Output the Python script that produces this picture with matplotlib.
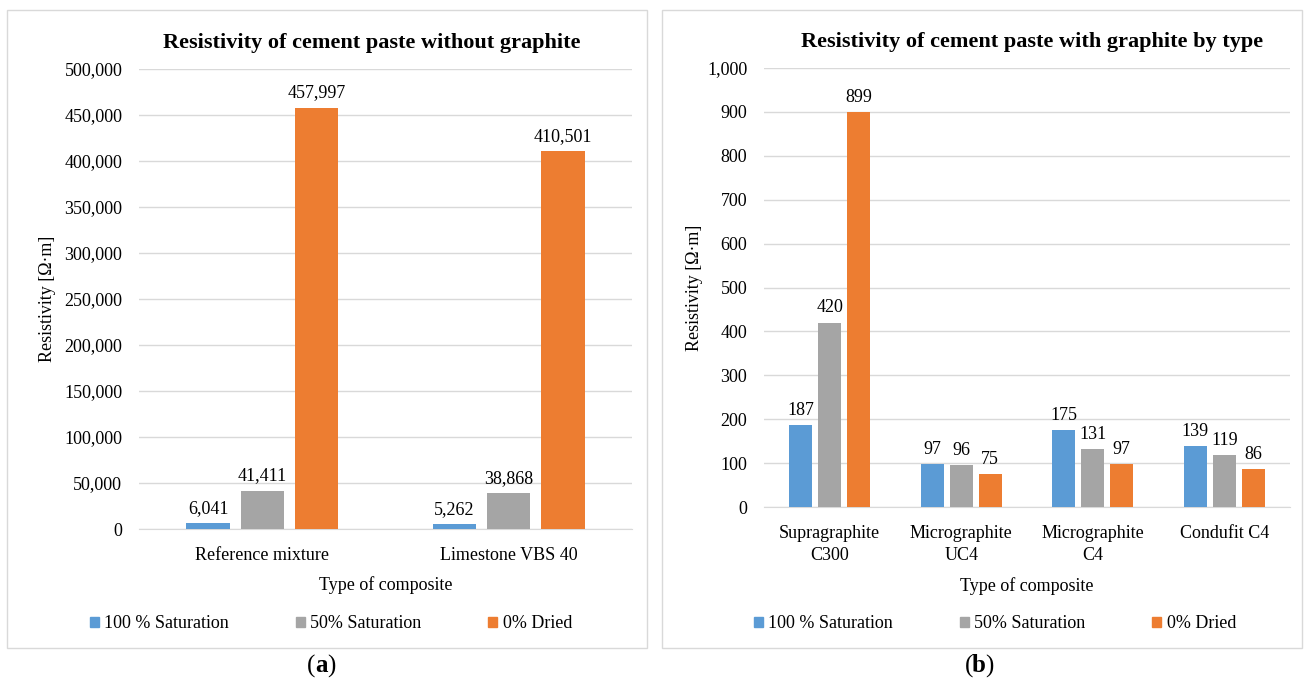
import matplotlib.pyplot as plt
from matplotlib.patches import Rectangle
from matplotlib.ticker import FuncFormatter
import numpy as np

plt.rcParams["font.family"] = ["Liberation Serif", "DejaVu Serif"]

series = ["100 % Saturation", "50% Saturation", "0% Dried"]
colors = ["#5B9BD5", "#A5A5A5", "#ED7D31"]

cats_a = ["Reference mixture", "Limestone VBS 40"]
sat100_a = [6041, 5262]
sat50_a = [41411, 38868]
dried_a = [457997, 410501]

cats_b = ["Supragraphite\nC300", "Micrographite\nUC4", "Micrographite\nC4", "Condufit C4"]
sat100_b = [187, 97, 175, 139]
sat50_b = [420, 96, 131, 119]
dried_b = [899, 75, 97, 86]

W, H = 1307, 684
fig = plt.figure(figsize=(W / 100, H / 100), dpi=100)


def px_axes(x0, y0, x1, y1):
    return fig.add_axes([x0 / W, 1 - y1 / H, (x1 - x0) / W, (y1 - y0) / H])


def panel_box(x0, y0, x1, y1):
    fig.patches.append(Rectangle((x0 / W, 1 - y1 / H), (x1 - x0) / W, (y1 - y0) / H,
                                 transform=fig.transFigure, fill=False,
                                 edgecolor="#D9D9D9", linewidth=1.0))


def draw_panel(ax, cats, values, ymax, step, title, title_x, ylabel_pad):
    x = np.arange(len(cats))
    width = 0.175
    offs = [-0.22, 0.0, 0.22]
    for vals, off, col in zip(values, offs, colors):
        bars = ax.bar(x + off, vals, width, color=col, zorder=3)
        for b, v in zip(bars, vals):
            ax.text(b.get_x() + b.get_width() / 2, v + ymax * 0.014, f"{v:,}",
                    ha="center", va="bottom", fontsize=13, color="#000000")
    ax.set_xlim(-0.5, len(cats) - 0.5)
    ax.set_ylim(0, ymax)
    ax.set_yticks(np.arange(0, ymax + step / 2, step))
    ax.yaxis.set_major_formatter(FuncFormatter(lambda v, p: f"{int(v):,}"))
    ax.set_xticks(x)
    ax.set_xticklabels(cats, fontsize=13, linespacing=1.4)
    ax.tick_params(axis="y", length=0, labelsize=13, pad=12)
    ax.tick_params(axis="x", length=0, labelsize=13, pad=13)
    ax.grid(axis="y", color="#D9D9D9", linewidth=1.0, zorder=0)
    for s in ["top", "right", "left"]:
        ax.spines[s].set_visible(False)
    ax.spines["bottom"].set_color("#D9D9D9")
    ax.set_title(title, fontsize=16, fontweight="bold", pad=15, x=title_x)
    ax.set_ylabel("Resistivity [\u03a9\u00b7m]", fontsize=13, labelpad=ylabel_pad)
    ax.set_xlabel("Type of composite", fontsize=13, labelpad=9)


panel_box(7, 10, 647, 648)
panel_box(662, 10, 1302, 648)

ax1 = px_axes(139, 69, 632, 529)
draw_panel(ax1, cats_a, [sat100_a, sat50_a, dried_a], 500000, 50000,
           "Resistivity of cement paste without graphite", 0.473, 6)

ax2 = px_axes(764, 68, 1290, 507)
draw_panel(ax2, cats_b, [sat100_b, sat50_b, dried_b], 1000, 100,
           "Resistivity of cement paste with graphite by type", 0.51, 3)

handles = [Rectangle((0, 0), 1, 1, color=c) for c in colors]
for cx in (331 / W, 995 / W):
    fig.legend(handles, series, loc="center", bbox_to_anchor=(cx, 1 - 624 / H),
               ncol=3, frameon=False, fontsize=13, handlelength=0.5,
               handleheight=0.5, handletextpad=0.3, columnspacing=3.7)

for cx, letter in ((321, "a"), (979, "b")):
    y = 1 - 666 / H
    fig.text(cx / W, y, letter, ha="center", va="center", fontsize=18, fontweight="bold")
    fig.text((cx - 10) / W, y, "(", ha="center", va="center", fontsize=18)
    fig.text((cx + 10) / W, y, ")", ha="center", va="center", fontsize=18)

fig.savefig("out.png", dpi=100)
